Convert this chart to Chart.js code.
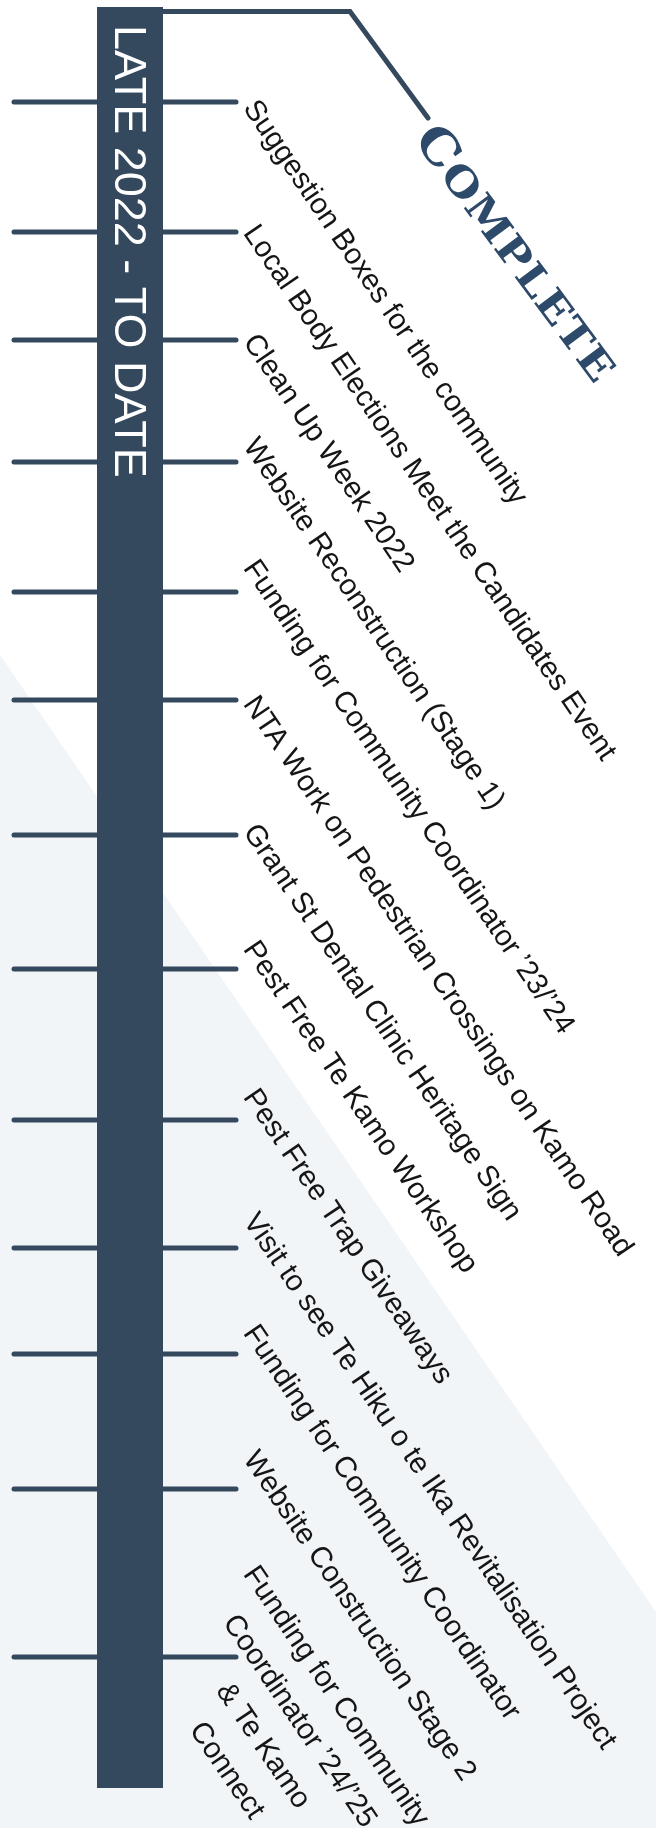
<!DOCTYPE html>
<html>
<head>
<meta charset="utf-8">
<script src="https://cdn.jsdelivr.net/npm/chart.js@4.4.0/dist/chart.umd.min.js"></script>
<style>
  html, body { margin: 0; padding: 0; background: #fff; }
  #wrap { width: 656px; height: 1828px; position: relative; }
</style>
</head>
<body>
<div id="wrap"><canvas id="timeline"></canvas></div>
<script>
// --- data ---
const periodLabel = 'LATE 2022 - TO DATE';
const statusLabel = 'COMPLETE';

const events = [
    'Suggestion Boxes for the community',
    'Local Body Elections Meet the Candidates Event',
    'Clean Up Week 2022',
    'Website Reconstruction (Stage 1)',
    'Funding for Community Coordinator \u201923/\u201924',
    'NTA Work on Pedestrian Crossings on Kamo Road',
    'Grant St Dental Clinic Heritage Sign',
    'Pest Free Te Kamo Workshop',
    'Pest Free Trap Giveaways',
    'Visit to see Te Hiku o te Ika Revitalisation Project',
    'Funding for Community Coordinator',
    'Website Construction Stage 2',
    ['Funding for Community', 'Coordinator \u201924/\u201925', '& Te Kamo', 'Connect']
];

// position of each tick along the timeline (0 = top)
const tickPos = [102, 232, 340, 462, 592, 700, 835, 969, 1120, 1248, 1354, 1489, 1657];

// position of each label's first letter along the timeline
const labelPos = [96, 221, 330, 434, 556, 692, 820, 937, 1085, 1209, 1321, 1447, 1562];

// timeline extent
const timelineStart = 7;
const timelineEnd = 1788;

// --- layout / style ---
const W = 656, H = 1828;
const NAVY = '#34495e';
const TITLE_BLUE = '#2d4a6a';
const SHADE = '#f2f5f8';
const SPINE_X = 130, SPINE_W = 66;
const TICK_LEFT = 14, TICK_RIGHT = 236;
const LABEL_X = 260, LABEL_ANGLE = 55.8, LABEL_SIZE = 29.6, LINE_H = 44;
const BRACKET = [[SPINE_X + SPINE_W / 2 - 2, 11.5], [350, 11.5], [428, 118]];

const font = (size, fam, weight) => (weight || 'normal') + ' ' + size + 'px ' + fam;
const SANS = '"Liberation Sans", Arial, Helvetica, sans-serif';
const SERIF = '"DejaVu Serif", "Liberation Serif", serif';

const datasets = [];

// bracket running from the top of the spine to the status label
datasets.push({
    data: BRACKET.map(p => ({x: p[0], y: p[1]})),
    borderColor: NAVY,
    borderWidth: 5,
    borderJoinStyle: 'miter',
    borderCapStyle: 'round',
    order: 3
});

// one tick per event
tickPos.forEach(p => {
    datasets.push({
        data: [{x: TICK_LEFT, y: p}, {x: TICK_RIGHT, y: p}],
        borderColor: NAVY,
        borderWidth: 5,
        borderCapStyle: 'round',
        order: 2
    });
});

// the spine itself
datasets.push({
    data: [{x: SPINE_X, y: timelineStart}, {x: SPINE_X, y: timelineEnd}],
    borderColor: NAVY,
    borderWidth: SPINE_W,
    borderCapStyle: 'butt',
    order: 1
});

const backdrop = {
    id: 'backdrop',
    beforeDraw(chart) {
        const {ctx} = chart;
        const xs = chart.scales.x, ys = chart.scales.y;
        ctx.save();
        ctx.fillStyle = '#ffffff';
        ctx.fillRect(0, 0, chart.width, chart.height);
        ctx.fillStyle = SHADE;
        ctx.beginPath();
        ctx.moveTo(xs.getPixelForValue(0), ys.getPixelForValue(655));
        ctx.lineTo(xs.getPixelForValue(W), ys.getPixelForValue(1612));
        ctx.lineTo(xs.getPixelForValue(W), ys.getPixelForValue(H));
        ctx.lineTo(xs.getPixelForValue(0), ys.getPixelForValue(H));
        ctx.closePath();
        ctx.fill();
        ctx.restore();
    }
};

const texts = {
    id: 'texts',
    afterDatasetsDraw(chart) {
        const {ctx} = chart;
        const xs = chart.scales.x, ys = chart.scales.y;

        // period title down the spine
        ctx.save();
        ctx.translate(xs.getPixelForValue(SPINE_X - 15), ys.getPixelForValue(timelineStart + 18));
        ctx.rotate(Math.PI / 2);
        ctx.font = font(45, SANS);
        ctx.fillStyle = '#ffffff';
        ctx.textBaseline = 'alphabetic';
        ctx.fillText(periodLabel, 0, 0);
        ctx.restore();

        // event labels
        const a = LABEL_ANGLE * Math.PI / 180;
        const capH = 0.716 * LABEL_SIZE;
        ctx.save();
        ctx.font = font(LABEL_SIZE, SANS);
        ctx.fillStyle = '#151515';
        ctx.textBaseline = 'alphabetic';
        events.forEach((ev, i) => {
            const lines = Array.isArray(ev) ? ev : [ev];
            ctx.save();
            ctx.translate(xs.getPixelForValue(LABEL_X), ys.getPixelForValue(labelPos[i]));
            ctx.rotate(a);
            if (lines.length === 1) {
                ctx.textAlign = 'left';
                ctx.fillText(lines[0], 0, capH);
            } else {
                const c = ctx.measureText(lines[0]).width / 2;
                ctx.textAlign = 'center';
                lines.forEach((l, j) => ctx.fillText(l, c, capH + j * LINE_H));
            }
            ctx.restore();
        });
        ctx.restore();

        // status label, small caps
        const end = BRACKET[BRACKET.length - 1];
        ctx.save();
        ctx.translate(xs.getPixelForValue(end[0] + 12), ys.getPixelForValue(end[1] + 1));
        ctx.rotate(53.5 * Math.PI / 180);
        ctx.scale(1.12, 1);
        ctx.fillStyle = TITLE_BLUE;
        ctx.textBaseline = 'alphabetic';
        ctx.font = font(48, SERIF, 'bold');
        const base = 34;
        ctx.fillText(statusLabel[0], 0, base);
        let adv = ctx.measureText(statusLabel[0]).width + 1;
        ctx.font = font(40, SERIF, 'bold');
        for (const ch of statusLabel.slice(1)) {
            ctx.fillText(ch, adv, base);
            adv += ctx.measureText(ch).width + 1;
        }
        ctx.restore();
    }
};

new Chart(document.getElementById('timeline'), {
    type: 'scatter',
    data: {datasets: datasets},
    options: {
        responsive: true,
        maintainAspectRatio: false,
        animation: false,
        showLine: true,
        layout: {padding: 0},
        elements: {point: {radius: 0, hoverRadius: 0}},
        plugins: {legend: {display: false}, tooltip: {enabled: false}},
        scales: {
            x: {type: 'linear', min: 0, max: W, display: false},
            y: {type: 'linear', min: 0, max: H, reverse: true, display: false}
        }
    },
    plugins: [backdrop, texts]
});
</script>
</body>
</html>
